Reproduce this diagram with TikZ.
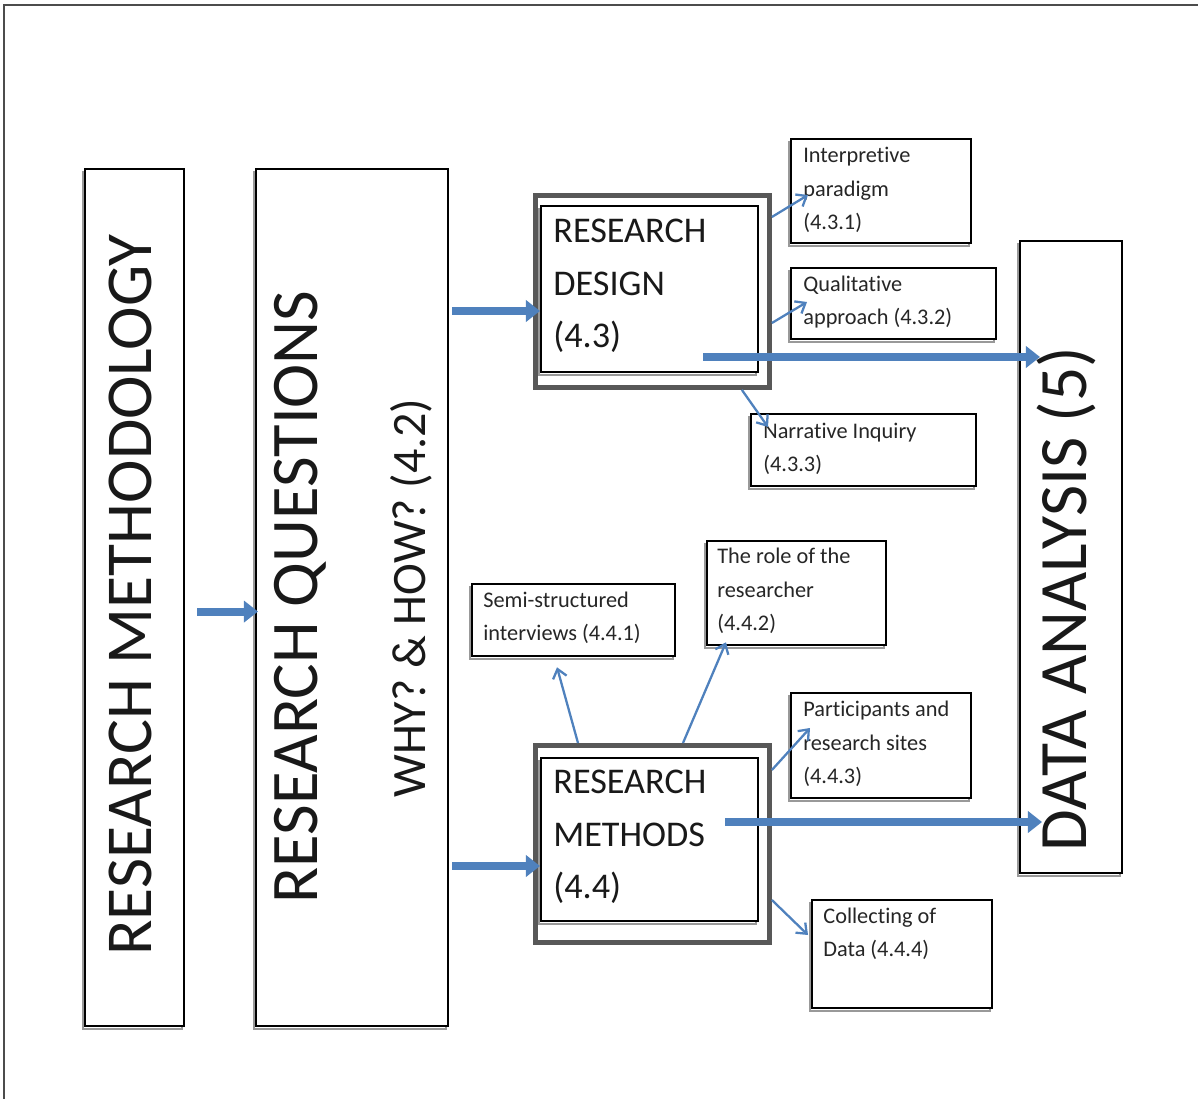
\documentclass[tikz,border=0pt]{standalone}
\usepackage{fontspec}
\setmainfont{Carlito}[Ligatures=NoCommon]
\usetikzlibrary{calc,arrows.meta,shadows}
\definecolor{flowblue}{RGB}{79,129,189}
\definecolor{framegray}{RGB}{88,88,88}
\begin{document}
\begin{tikzpicture}[x=0.02cm,y=-0.02cm,
  box/.style={draw=black, line width=1.3pt, fill=white, inner sep=0pt, anchor=north west,
    drop shadow={shadow xshift=-1.2pt, shadow yshift=-1.6pt, fill=none, draw=black!40, line width=1.3pt, opacity=1}},
  framebox/.style={draw=framegray, line width=2.8pt, fill=white, inner sep=0pt, anchor=north west},
  bigtext/.style={text=black!90, inner sep=0pt, rotate=90},
  whytext/.style={font=\fontsize{27.3}{30}\selectfont, text=black!90, inner sep=0pt, rotate=90},
  midtext/.style={font=\fontsize{20.6}{30}\selectfont, text=black!90, inner sep=0pt, anchor=west, align=left},
  smalltext/.style={font=\fontsize{12.7}{19}\selectfont, text=black!85, inner sep=0pt, anchor=west, align=left},
  bigarrow/.style={draw=flowblue, line width=4.5pt, -{Triangle[length=8pt,width=12pt]}},
  thinarrow/.style={draw=flowblue, line width=1.3pt, -{Straight Barb[length=5pt,width=8pt]}}
]
\useasboundingbox (0,0) rectangle (1198,1099);

% page frame
\draw[draw=black!70, line width=1.2pt] (4,1099) -- (4,5) -- (1198,5);

% main columns
\node[box, minimum width=1.98cm, minimum height=17.14cm] (meth) at (84,168) {};
\node[box, minimum width=3.84cm, minimum height=17.14cm] (quest) at (255,168) {};
\node[box, minimum width=2.04cm, minimum height=12.64cm] (da) at (1019,240) {};

\node[bigtext, font=\fontsize{37.3}{40}\selectfont] (metht) at (130,595) {RESEARCH METHODOLOGY};
\node[bigtext, font=\fontsize{37.9}{40}\selectfont] (questt) at (300,597) {RESEARCH QUESTIONS};
\node[whytext] (why) at (411,598) {WHY? \& HOW? (4.2)};
\node[bigtext, font=\fontsize{38.6}{40}\selectfont] (dat) at (1066,599) {DATA ANALYSIS (5)};

% research design and research methods
\node[framebox, minimum width=4.68cm, minimum height=3.84cm] (rdo) at (533,193) {};
\node[box, minimum width=4.34cm, minimum height=3.32cm] (rdi) at (540,205) {};
\node[midtext] (rdt) at (553,286) {RESEARCH\\DESIGN\\(4.3)};

\node[framebox, minimum width=4.68cm, minimum height=3.94cm] (rmo) at (533,743) {};
\node[box, minimum width=4.34cm, minimum height=3.26cm] (rmi) at (540,757) {};
\node[midtext] (rmt) at (553,837) {RESEARCH\\METHODS\\(4.4)};

% sub-sections
\node[box, minimum width=3.6cm, minimum height=2.08cm] (s1) at (790,138) {};
\node[smalltext] (s1t) at (803,190) {Interpretive\\paradigm\\(4.3.1)};
\node[box, minimum width=4.1cm, minimum height=1.42cm] (s2) at (790,267) {};
\node[smalltext] (s2t) at (803,302) {Qualitative\\approach (4.3.2)};
\node[box, minimum width=4.5cm, minimum height=1.44cm] (s3) at (750,413) {};
\node[smalltext] (s3t) at (763,449) {Narrative Inquiry\\(4.3.3)};

\node[box, minimum width=4.06cm, minimum height=1.44cm] (s4) at (471,583) {};
\node[smalltext] (s4t) at (483,618) {Semi-structured\\interviews (4.4.1)};
\node[box, minimum width=3.58cm, minimum height=2.08cm] (s5) at (706,540) {};
\node[smalltext] (s5t) at (717,591) {The role of the\\researcher\\(4.4.2)};
\node[box, minimum width=3.6cm, minimum height=2.1cm] (s6) at (790,692) {};
\node[smalltext] (s6t) at (803,744) {Participants and\\research sites\\(4.4.3)};
\node[box, minimum width=3.6cm, minimum height=2.16cm] (s7) at (811,899) {};
\node[smalltext] (s7t) at (823,934) {Collecting of\\Data (4.4.4)};

% main flow
\draw[bigarrow] ($(meth.east)+(12,14)$) -- ($(quest.west)+(3,14)$);
\draw[bigarrow] ($(quest.north east)+(3,143)$) -- ($(rdi.north west)+(0,106)$);
\draw[bigarrow] ($(quest.north east)+(3,698)$) -- ($(rmi.north west)+(0,109)$);
\draw[bigarrow] ($(rdi.north west)+(163,152)$) -- ($(da.north west)+(21,117)$);
\draw[bigarrow] ($(rmi.north west)+(185,65)$) -- ($(da.north west)+(23,582)$);

% branches to sub-sections
\draw[thinarrow] ($(rdo.north east)+(0,24)$) -- ($(s1.north west)+(18,57)$);
\draw[thinarrow] ($(rdo.north east)+(0,130)$) -- ($(s2.north west)+(17,35)$);
\draw[thinarrow] ($(rdo.south east)+(-30,0)$) -- ($(s3.north west)+(18,14)$);
\draw[thinarrow] ($(rmo.north west)+(45,0)$) -- ($(s4.south west)+(86,10)$);
\draw[thinarrow] ($(rmo.north west)+(150,0)$) -- ($(s5.south west)+(20,-4)$);
\draw[thinarrow] ($(rmo.north east)+(0,27)$) -- ($(s6.north west)+(20,36)$);
\draw[thinarrow] ($(rmo.north east)+(0,157)$) -- ($(s7.north west)+(-3,36)$);
\end{tikzpicture}
\end{document}
